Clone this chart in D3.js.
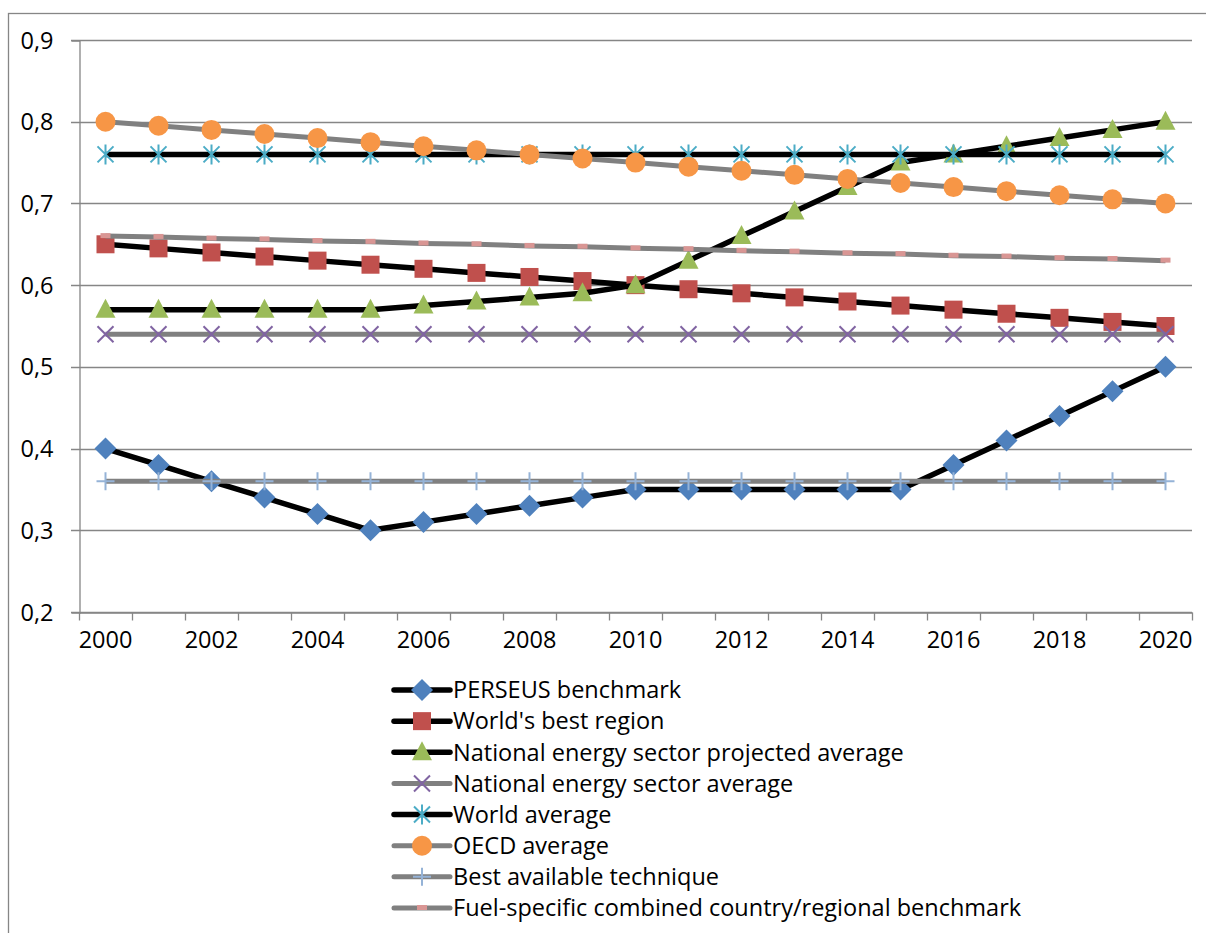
<!DOCTYPE html>
<html lang="en">
<head>
<meta charset="UTF-8">
<title>Benchmarks 2000-2020</title>
<script src="https://d3js.org/d3.v7.min.js"></script>
<style>
  body { margin: 0; background: #fff; }
  text { font-family: "Open Sans", Lato, sans-serif; fill: #000; }
</style>
</head>
<body>
<div id="chart"></div>
<script>
// categories
const years = d3.range(2000, 2021).map(String);
const labelYears = years.filter((d, i) => i % 2 === 0);
const yTicks = [0.2, 0.3, 0.4, 0.5, 0.6, 0.7, 0.8, 0.9];

// series values
const perseus = [0.40, 0.38, 0.36, 0.34, 0.32, 0.30, 0.31, 0.32, 0.33, 0.34, 0.35, 0.35, 0.35, 0.35, 0.35, 0.35, 0.38, 0.41, 0.44, 0.47, 0.50];
const worldBest = [0.65, 0.645, 0.64, 0.635, 0.63, 0.625, 0.62, 0.615, 0.61, 0.605, 0.60, 0.595, 0.59, 0.585, 0.58, 0.575, 0.57, 0.565, 0.56, 0.555, 0.55];
const nationalProjected = [0.57, 0.57, 0.57, 0.57, 0.57, 0.57, 0.575, 0.58, 0.585, 0.59, 0.60, 0.63, 0.66, 0.69, 0.72, 0.75, 0.76, 0.77, 0.78, 0.79, 0.80];
const nationalAvg = [0.54, 0.54, 0.54, 0.54, 0.54, 0.54, 0.54, 0.54, 0.54, 0.54, 0.54, 0.54, 0.54, 0.54, 0.54, 0.54, 0.54, 0.54, 0.54, 0.54, 0.54];
const worldAvg = [0.76, 0.76, 0.76, 0.76, 0.76, 0.76, 0.76, 0.76, 0.76, 0.76, 0.76, 0.76, 0.76, 0.76, 0.76, 0.76, 0.76, 0.76, 0.76, 0.76, 0.76];
const oecdAvg = [0.80, 0.795, 0.79, 0.785, 0.78, 0.775, 0.77, 0.765, 0.76, 0.755, 0.75, 0.745, 0.74, 0.735, 0.73, 0.725, 0.72, 0.715, 0.71, 0.705, 0.70];
const bestTechnique = [0.36, 0.36, 0.36, 0.36, 0.36, 0.36, 0.36, 0.36, 0.36, 0.36, 0.36, 0.36, 0.36, 0.36, 0.36, 0.36, 0.36, 0.36, 0.36, 0.36, 0.36];
const fuelSpecific = [0.660, 0.659, 0.657, 0.656, 0.654, 0.653, 0.651, 0.650, 0.648, 0.647, 0.645, 0.644, 0.642, 0.641, 0.639, 0.638, 0.636, 0.635, 0.633, 0.632, 0.630];

const seriesNames = ["PERSEUS benchmark", "World's best region", "National energy sector projected average",
  "National energy sector average", "World average", "OECD average", "Best available technique",
  "Fuel-specific combined country/regional benchmark"];

const series = [
  { name: seriesNames[0], values: perseus, line: "#000", marker: "diamond", color: "#4F81BD" },
  { name: seriesNames[1], values: worldBest, line: "#000", marker: "square", color: "#C0504D" },
  { name: seriesNames[2], values: nationalProjected, line: "#000", marker: "triangle", color: "#9BBB59" },
  { name: seriesNames[3], values: nationalAvg, line: "#808080", marker: "x", color: "#8064A2" },
  { name: seriesNames[4], values: worldAvg, line: "#000", marker: "star", color: "#4BACC6" },
  { name: seriesNames[5], values: oecdAvg, line: "#808080", marker: "circle", color: "#F79646" },
  { name: seriesNames[6], values: bestTechnique, line: "#808080", marker: "plus", color: "#95B3D7" },
  { name: seriesNames[7], values: fuelSpecific, line: "#808080", marker: "dash", color: "#D99694" }
];

const W = 1206, H = 933;
const plot = { left: 79, right: 1192, top: 40, bottom: 612 };
const gridColor = "#868686";
const fontSize = 23.5;

const svg = d3.select("#chart").append("svg")
  .attr("width", W)
  .attr("height", H);

// outer chart frame
svg.append("rect")
  .attr("x", 8.5).attr("y", 13.5)
  .attr("width", W + 20).attr("height", H + 20)
  .attr("fill", "none")
  .attr("stroke", gridColor)
  .attr("stroke-width", 1.3);

const x = d3.scaleBand().domain(years).range([plot.left, plot.right]);
const y = d3.scaleLinear().domain([0.2, 0.9]).range([plot.bottom, plot.top]);
const cx = d => x(d) + x.bandwidth() / 2;

// gridlines (including the tick stubs left of the axis)
svg.append("g")
  .selectAll("line")
  .data(yTicks)
  .join("line")
  .attr("x1", plot.left - 8).attr("x2", plot.right)
  .attr("y1", d => Math.round(y(d)) + 0.5).attr("y2", d => Math.round(y(d)) + 0.5)
  .attr("stroke", gridColor)
  .attr("stroke-width", 1.3);

// y axis
const yAxis = svg.append("g")
  .attr("transform", `translate(${plot.left + 0.5},0.5)`)
  .call(d3.axisLeft(y).tickValues(yTicks).tickSize(8).tickPadding(18)
    .tickFormat(d => d3.format(".1f")(d).replace(".", ",")));
yAxis.select(".domain").attr("stroke", gridColor).attr("stroke-width", 1.3);
yAxis.selectAll(".tick line").attr("stroke", "none");
yAxis.selectAll(".tick text").attr("font-size", fontSize).style("font-family", "'Open Sans', sans-serif");

// x axis: labels on every other category, ticks at category boundaries
const xAxis = svg.append("g")
  .attr("transform", `translate(0,${Math.round(plot.bottom) + 0.5})`)
  .call(d3.axisBottom(x).tickValues(labelYears).tickSize(0).tickPadding(19));
xAxis.select(".domain").attr("stroke", gridColor).attr("stroke-width", 1.3);
xAxis.selectAll(".tick text").attr("font-size", fontSize).style("font-family", "'Open Sans', sans-serif");
xAxis.append("g")
  .selectAll("line")
  .data(years.map(d => x(d)).concat([plot.right]))
  .join("line")
  .attr("x1", d => Math.round(d) + 0.5).attr("x2", d => Math.round(d) + 0.5)
  .attr("y1", 0).attr("y2", 8)
  .attr("stroke", gridColor)
  .attr("stroke-width", 1.3);

// marker drawing
function drawMarker(g, type, color) {
  if (type === "diamond") {
    g.append("path").attr("d", "M0,-11L11,0L0,11L-11,0Z").attr("fill", color);
  } else if (type === "square") {
    g.append("rect").attr("x", -9).attr("y", -9).attr("width", 18).attr("height", 18).attr("fill", color);
  } else if (type === "triangle") {
    g.append("path").attr("d", "M0,-11L10,8L-10,8Z").attr("fill", color);
  } else if (type === "x") {
    g.append("path").attr("d", "M-8,-8L8,8M-8,8L8,-8").attr("stroke", color).attr("stroke-width", 2);
  } else if (type === "star") {
    g.append("path").attr("d", "M-8,-8L8,8M-8,8L8,-8M0,-10L0,10").attr("stroke", color).attr("stroke-width", 2);
  } else if (type === "circle") {
    g.append("circle").attr("r", 10).attr("fill", color);
  } else if (type === "plus") {
    g.append("path").attr("d", "M-9,0L9,0M0,-9L0,9").attr("stroke", color).attr("stroke-width", 2);
  } else if (type === "dash") {
    g.append("rect").attr("x", -5).attr("y", -3).attr("width", 10).attr("height", 5).attr("fill", color);
  }
}

const line = d3.line().x(d => cx(d.year)).y(d => y(d.value));

series.forEach(s => {
  const pts = years.map((yr, i) => ({ year: yr, value: s.values[i] }));
  const g = svg.append("g");
  g.append("path")
    .datum(pts)
    .attr("d", line)
    .attr("fill", "none")
    .attr("stroke", s.line)
    .attr("stroke-width", s.line === "#000" ? 5.5 : 5)
    .attr("stroke-linejoin", "round");
  g.selectAll("g.m")
    .data(pts)
    .join("g")
    .attr("class", "m")
    .attr("transform", d => `translate(${cx(d.year)},${y(d.value)})`)
    .each(function () { drawMarker(d3.select(this), s.marker, s.color); });
});

// legend
const legendY = d3.scalePoint().domain(seriesNames).range([690, 908]);
const legend = svg.append("g");
series.forEach(s => {
  const g = legend.append("g").attr("transform", `translate(392,${legendY(s.name)})`);
  g.append("line")
    .attr("x1", 2).attr("x2", 58)
    .attr("stroke", s.line)
    .attr("stroke-width", s.line === "#000" ? 5.5 : 5)
    .attr("stroke-linecap", "round");
  const m = g.append("g").attr("transform", "translate(30,0)");
  drawMarker(m, s.marker, s.color);
  g.append("text")
    .attr("x", 61)
    .attr("dy", "0.35em")
    .attr("font-size", fontSize)
    .text(s.name);
});
</script>
</body>
</html>
